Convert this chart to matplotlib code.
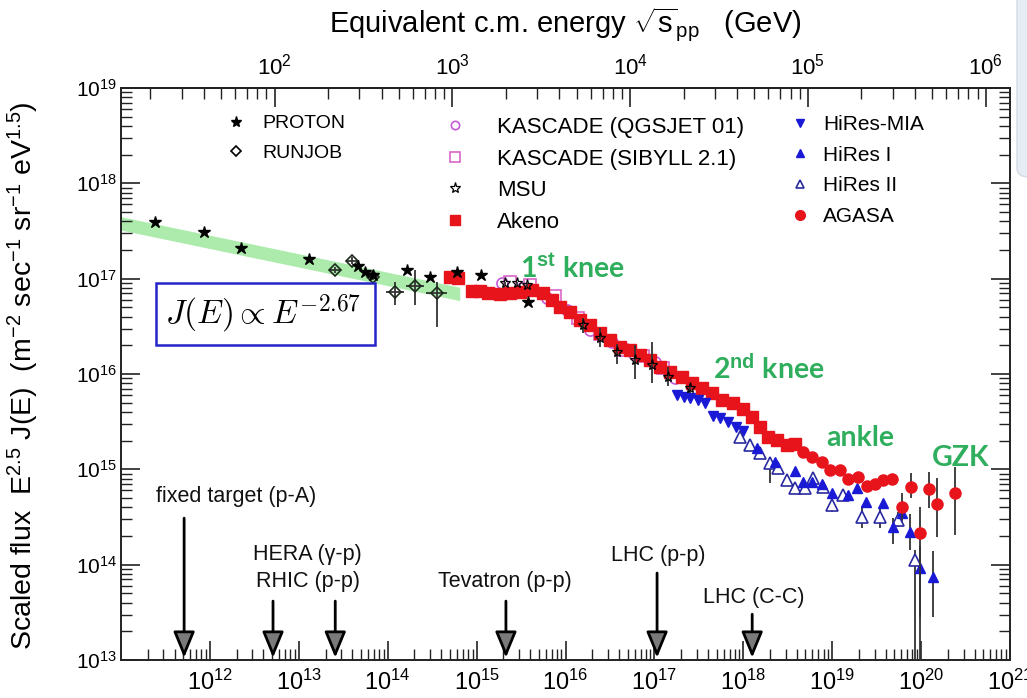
import numpy as np
import matplotlib
matplotlib.use("Agg")
import matplotlib.pyplot as plt
from matplotlib.lines import Line2D
from matplotlib.patches import Rectangle, FancyBboxPatch
from matplotlib.ticker import LogLocator, NullFormatter, FixedLocator, FixedFormatter

plt.rcParams['font.family'] = ['Liberation Sans', 'DejaVu Sans']
plt.rcParams['mathtext.fontset'] = 'custom'
plt.rcParams['mathtext.rm'] = 'Liberation Sans'
plt.rcParams['mathtext.it'] = 'Liberation Sans:italic'
plt.rcParams['mathtext.bf'] = 'Liberation Sans:bold'
plt.rcParams['mathtext.sf'] = 'Liberation Sans'
NARROW = ['Liberation Sans Narrow', 'Liberation Sans', 'DejaVu Sans']

# ---------------- data: log10(E / eV) and log10(E^2.5 J) ----------------
band_logE = [11.0, 14.81]
band_logF = [17.58, 16.84]
band_half = 0.07

proton_logE = [11.38, 11.93, 12.35, 13.11, 13.67, 13.74, 13.83, 14.22, 14.48, 14.78, 15.05, 15.58]
proton_logF = [17.59, 17.49, 17.32, 17.21, 17.13, 17.07, 17.04, 17.09, 17.02, 17.07, 17.04, 16.76]

runjob_logE = [13.41, 13.60, 13.83, 14.08, 14.31, 14.55]
runjob_logF = [17.09, 17.19, 17.02, 16.86, 16.92, 16.85]
runjob_hi = [0.03, 0.04, 0.03, 0.10, 0.17, 0.11]
runjob_lo = [0.03, 0.04, 0.03, 0.14, 0.20, 0.36]
runjob_dx = [0.06, 0.06, 0.05, 0.10, 0.10, 0.12]

kq_logE = [15.29, 15.51, 15.79, 16.02, 16.28, 16.52, 16.77, 17.01, 17.23]
kq_logF = [16.95, 16.90, 16.80, 16.67, 16.46, 16.34, 16.21, 16.13, 15.96]

ks_logE = [15.38, 15.60, 15.88, 16.14, 16.39, 16.64, 16.87, 17.10]
ks_logF = [16.96, 16.93, 16.82, 16.59, 16.42, 16.25, 16.19, 16.06]

msu_logE = [15.32, 15.45, 15.57, 16.20, 16.39, 16.58, 16.78, 16.97, 17.15, 17.40]
msu_logF = [16.95, 16.95, 16.93, 16.51, 16.38, 16.23, 16.15, 16.09, 15.97, 15.85]
msu_hi = [0.02, 0.02, 0.02, 0.08, 0.10, 0.08, 0.15, 0.25, 0.10, 0.05]
msu_lo = [0.02, 0.02, 0.02, 0.08, 0.10, 0.12, 0.20, 0.18, 0.10, 0.05]

akeno_logE = [14.70, 14.79, 14.95, 15.04, 15.13, 15.26, 15.38, 15.49, 15.62, 15.75,
              15.85, 15.94, 16.05, 16.16, 16.28, 16.39, 16.50, 16.61, 16.73, 16.84,
              16.95, 17.06, 17.18, 17.31, 17.42, 17.54, 17.65, 17.76, 17.88, 18.00,
              18.10, 18.19, 18.28, 18.38, 18.49, 18.58]
akeno_logF = [17.02, 17.01, 16.87, 16.87, 16.85, 16.84, 16.85, 16.86, 16.88, 16.85,
              16.78, 16.70, 16.65, 16.57, 16.51, 16.43, 16.36, 16.28, 16.25, 16.20,
              16.15, 16.07, 16.02, 15.97, 15.91, 15.85, 15.80, 15.73, 15.70, 15.63,
              15.55, 15.44, 15.34, 15.31, 15.26, 15.27]

mia_logE = [17.25, 17.33, 17.40, 17.49, 17.57, 17.66, 17.74, 17.83, 17.92, 18.00]
mia_logF = [15.78, 15.76, 15.75, 15.73, 15.70, 15.56, 15.54, 15.50, 15.44, 15.40]

hr1_logE = [18.15, 18.36, 18.58, 18.67, 18.77, 18.89, 19.00, 19.18, 19.28, 19.38,
            19.57, 19.68, 19.79, 19.88, 19.99, 20.13]
hr1_logF = [15.22, 15.08, 14.98, 14.87, 14.87, 14.85, 14.75, 14.73, 14.80, 14.66,
            14.65, 14.39, 14.54, 14.34, 13.96, 13.87]
hr1_hi = [0, 0, 0, 0, 0, 0, 0, 0, 0, 0, 0, 0.10, 0.10, 0.19, 0.24, 0.27]
hr1_lo = [0, 0, 0, 0, 0, 0, 0, 0, 0, 0, 0, 0.17, 0.10, 0.19, 1.20, 0.42]

hr2_logE = [17.96, 18.08, 18.19, 18.30, 18.39, 18.49, 18.58, 18.69, 18.78, 18.90,
            19.00, 19.12, 19.34, 19.54, 19.74, 19.93]
hr2_logF = [15.34, 15.26, 15.17, 15.07, 15.01, 14.89, 14.80, 14.80, 14.91, 14.81,
            14.63, 14.73, 14.50, 14.50, 14.47, 14.05]
hr2_hi = [0, 0, 0, 0.06, 0, 0, 0, 0, 0, 0, 0.08, 0, 0.12, 0.12, 0.08, 0.10]
hr2_lo = [0, 0, 0, 0.21, 0, 0, 0, 0, 0, 0, 0.08, 0, 0.12, 0.12, 0.08, 1.50]

agasa_logE = [18.67, 18.77, 18.89, 18.98, 19.09, 19.18, 19.29, 19.39, 19.48, 19.57,
              19.67, 19.79, 19.89, 19.99, 20.09, 20.18, 20.38]
agasa_logF = [15.18, 15.13, 15.08, 14.99, 14.99, 14.90, 14.92, 14.83, 14.85, 14.89,
              14.90, 14.60, 14.81, 14.33, 14.79, 14.64, 14.75]
agasa_hi = [0, 0, 0, 0, 0, 0, 0, 0, 0, 0, 0, 0.15, 0.15, 0.27, 0.18, 0.27, 0.27]
agasa_lo = [0, 0, 0, 0, 0, 0, 0, 0, 0, 0, 0, 0.13, 0.11, 0.88, 0.20, 0.35, 0.44]

# accelerator equivalent lab energies (eV)
acc_names = ['fixed target (p-A)', 'HERA (γ-p)', 'RHIC (p-p)', 'Tevatron (p-p)', 'LHC (p-p)', 'LHC (C-C)']
acc_logE = [11.71, 12.71, 13.41, 15.33, 17.03, 18.10]

x_tick_exps = list(range(12, 22))
y_tick_exps = list(range(13, 20))
top_tick_exps = list(range(2, 7))

# ---------------- figure ----------------
fig = plt.figure(figsize=(10.27, 6.98), dpi=100)
fig.patch.set_facecolor('white')
fig.patches.append(FancyBboxPatch((1017 / 1027, 1 - 177 / 698), 0.05, 0.3,
                                  boxstyle='round,pad=0,rounding_size=0.012',
                                  transform=fig.transFigure, fc='#e6ecf3', ec='#d3dbe6', lw=1))
ax = fig.add_axes([121 / 1027, 38 / 698, 889 / 1027, 572 / 698])
ax.set_xscale('log')
ax.set_yscale('log')
ax.set_xlim(1e11, 1e21)
ax.set_ylim(1e13, 1e19)


def p10(a):
    return 10.0 ** np.asarray(a, dtype=float)


def yerr(logF, hi, lo):
    F = p10(logF)
    return [F - p10(np.asarray(logF) - np.asarray(lo)), p10(np.asarray(logF) + np.asarray(hi)) - F]


def xerr(logE, dx):
    E = p10(logE)
    return [E - p10(np.asarray(logE) - np.asarray(dx)), p10(np.asarray(logE) + np.asarray(dx)) - E]


# power-law band
bE = p10(band_logE)
ax.fill_between(bE, p10(np.array(band_logF) - band_half), p10(np.array(band_logF) + band_half),
                color='#9ee89e', alpha=0.85, lw=0, zorder=1)

ecol = '#333333'
# RUNJOB
ax.errorbar(p10(runjob_logE), p10(runjob_logF), yerr=yerr(runjob_logF, runjob_hi, runjob_lo),
            xerr=xerr(runjob_logE, runjob_dx), fmt='D', ms=6, mfc='none', mec='#1c2a1c', mew=1.2,
            ecolor=ecol, elinewidth=1.3, capsize=0, zorder=3)
# PROTON
ax.plot(p10(proton_logE), p10(proton_logF), '*', ms=9, color='black', mec='black', ls='none', zorder=4)
# KASCADE
ax.plot(p10(kq_logE), p10(kq_logF), 'o', ms=8, mfc='none', mec='#c45ad8', mew=1.2, ls='none', zorder=3)
ax.plot(p10(ks_logE), p10(ks_logF), 's', ms=8, mfc='none', mec='#d866c8', mew=1.2, ls='none', zorder=3)
# Akeno
ax.plot(p10(akeno_logE), p10(akeno_logF), 's', ms=8, color='#e8141c', mec='#e8141c', ls='none', zorder=3)
# MSU
ax.errorbar(p10(msu_logE), p10(msu_logF), yerr=yerr(msu_logF, msu_hi, msu_lo), fmt='*', ms=8,
            mfc='none', mec='black', mew=0.9, ecolor=ecol, elinewidth=1.3, capsize=0, zorder=5)
# HiRes
blue = '#1a1ad6'
ax.plot(p10(mia_logE), p10(mia_logF), 'v', ms=7, color=blue, ls='none', zorder=4)
ax.errorbar(p10(hr2_logE), p10(hr2_logF), yerr=yerr(hr2_logF, hr2_hi, hr2_lo), fmt='^', ms=8,
            mfc='white', mec='#2a2aa0', mew=1.2, ecolor=ecol, elinewidth=1.3, capsize=0, zorder=4)
ax.errorbar(p10(hr1_logE), p10(hr1_logF), yerr=yerr(hr1_logF, hr1_hi, hr1_lo), fmt='^', ms=7,
            color=blue, ecolor=ecol, elinewidth=1.3, capsize=0, zorder=4)
# AGASA
ax.errorbar(p10(agasa_logE), p10(agasa_logF), yerr=yerr(agasa_logF, agasa_hi, agasa_lo), fmt='o',
            ms=8, color='#e8141c', ecolor=ecol, elinewidth=1.3, capsize=0, zorder=5)

# ---------------- axes styling ----------------
for s in ax.spines.values():
    s.set_linewidth(1.4)
    s.set_color('#222222')
ax.set_xticks(p10(x_tick_exps))
ax.set_xticklabels([r'$10^{%d}$' % e for e in x_tick_exps])
ax.set_yticks(p10(y_tick_exps))
ax.set_yticklabels([r'$10^{%d}$' % e for e in y_tick_exps])
ax.xaxis.set_minor_locator(LogLocator(base=10, subs=np.arange(2, 10), numticks=30))
ax.yaxis.set_minor_locator(LogLocator(base=10, subs=np.arange(2, 10), numticks=30))
ax.xaxis.set_minor_formatter(NullFormatter())
ax.yaxis.set_minor_formatter(NullFormatter())
ax.tick_params(which='both', direction='in', top=False, right=True, color='#222222')
ax.tick_params(which='major', length=14, width=1.2)
ax.tick_params(which='minor', length=8, width=1.0)
ax.tick_params(axis='x', labelsize=17, pad=7)
ax.tick_params(axis='y', labelsize=15, pad=3)

ax.set_ylabel(r'Scaled flux  E$^{2.5}$ J(E)  (m$^{-2}$ sec$^{-1}$ sr$^{-1}$ eV$^{1.5}$)',
              fontsize=20.5, family=NARROW)
ax.yaxis.set_label_coords(-0.090, 0.497)

# top axis: equivalent centre-of-mass energy for p-p collisions
m_p = 0.938  # GeV


def to_sqrts(E):
    return np.sqrt(2 * m_p * np.clip(np.asarray(E, dtype=float), 1e-30, None) * 1e-9)


def to_E(s):
    return np.asarray(s, dtype=float) ** 2 / (2 * m_p) * 1e9


sec = ax.secondary_xaxis('top', functions=(to_sqrts, to_E))
sec.xaxis.set_major_locator(FixedLocator(p10(top_tick_exps)))
sec.xaxis.set_major_formatter(FixedFormatter([r'$10^{%d}$' % e for e in top_tick_exps]))
sec.xaxis.set_minor_locator(FixedLocator(
    [m * 10.0 ** e for e in range(1, 6) for m in range(2, 10) if 14 < m * 10.0 ** e < 1.3e6]))
sec.xaxis.set_minor_formatter(NullFormatter())
sec.tick_params(which='both', direction='in', color='#222222')
sec.tick_params(which='major', length=14, width=1.2, labelsize=16, pad=6)
sec.tick_params(which='minor', length=8, width=1.0)
sec.spines['top'].set_linewidth(1.4)
sec.set_xlabel(r'Equivalent c.m. energy $\sqrt{\mathrm{s}}_{\mathrm{pp}}$   (GeV)', fontsize=21,
               family=NARROW, labelpad=15)

# ---------------- legends ----------------
def key(marker, ms, mfc, mec, mew=1.0):
    return Line2D([], [], ls='none', marker=marker, ms=ms, mfc=mfc, mec=mec, mew=mew)


leg1 = ax.legend([key('*', 8, 'black', 'black'), key('D', 5, 'none', 'black', 1.2)],
                 ['PROTON', 'RUNJOB'], loc='upper left', bbox_to_anchor=(0.1185, 0.953),
                 frameon=False, fontsize=14, handlelength=1.0, handletextpad=0.84,
                 labelspacing=0.60, borderpad=0, borderaxespad=0, numpoints=1)
ax.add_artist(leg1)
leg2 = ax.legend([key('o', 6, 'none', '#c45ad8', 1.2), key('s', 7, 'none', '#d866c8', 1.2),
                  key('*', 8, 'none', 'black', 0.9), key('s', 7, '#e8141c', '#e8141c')],
                 ['KASCADE (QGSJET 01)', 'KASCADE (SIBYLL 2.1)', 'MSU', 'Akeno'],
                 loc='upper left', bbox_to_anchor=(0.363, 0.949), frameon=False, fontsize=16,
                 handlelength=1.0, handletextpad=1.39, labelspacing=0.47, borderpad=0,
                 borderaxespad=0, numpoints=1)
ax.add_artist(leg2)
leg3 = ax.legend([key('v', 6, blue, blue), key('^', 6, blue, blue),
                  key('^', 6, 'white', '#2a2aa0', 1.2), key('o', 7, '#e8141c', '#e8141c')],
                 ['HiRes-MIA', 'HiRes I', 'HiRes II', 'AGASA'],
                 loc='upper left', bbox_to_anchor=(0.752, 0.953), frameon=False, fontsize=15,
                 handlelength=1.0, handletextpad=0.61, labelspacing=0.56, borderpad=0,
                 borderaxespad=0, numpoints=1)

# ---------------- annotations ----------------
ax.add_patch(Rectangle((0.0394, 0.5507), 0.2463, 0.1084, transform=ax.transAxes,
                       fc='white', ec='#2424c8', lw=1.8, zorder=6))
ax.text(0.0495, 0.605, r'$J(E) \propto E^{-2.67}$', transform=ax.transAxes, ha='left', va='center',
        fontsize=24, math_fontfamily='cm', zorder=7)

green = '#2fae5e'
gkw = dict(color=green, fontsize=20.5, fontweight='bold', family=['Lato', 'DejaVu Sans'],
           va='baseline', zorder=8)
ax.text(10 ** 15.49, 10 ** 17.01, r'1$^{\mathbf{st}}$ knee', **gkw)
ax.text(10 ** 17.66, 10 ** 15.95, r'2$^{\mathbf{nd}}$ knee', **gkw)
ax.text(10 ** 18.93, 10 ** 15.24, 'ankle', **gkw)
ax.text(10 ** 20.12, 10 ** 15.04, 'GZK', **gkw)

# accelerator arrows
trans = ax.get_xaxis_transform()
arrow_top = [0.248, 0.103, 0.103, 0.103, 0.152, 0.080]
for lgE, ytop in zip(acc_logE, arrow_top):
    ax.annotate('', xy=(10 ** lgE, 0.004), xycoords=trans, xytext=(10 ** lgE, ytop), textcoords=trans,
                arrowprops=dict(arrowstyle='-|>,head_length=0.8,head_width=0.33', mutation_scale=20,
                                fc='#7a7a7a', ec='black', lw=2, shrinkA=0, shrinkB=0), zorder=6)

akw = dict(transform=ax.transAxes, fontsize=15.5, ha='center', va='center', color='#111111')
ax.text(0.129, 0.285, acc_names[0], **akw)
ax.text(0.210, 0.184, acc_names[1], **akw)
ax.text(0.210, 0.138, acc_names[2], **akw)
ax.text(0.432, 0.138, acc_names[3], **akw)
ax.text(0.604, 0.182, acc_names[4], **akw)
ax.text(0.712, 0.110, acc_names[5], **akw)

fig.savefig('out.png', dpi=100)
